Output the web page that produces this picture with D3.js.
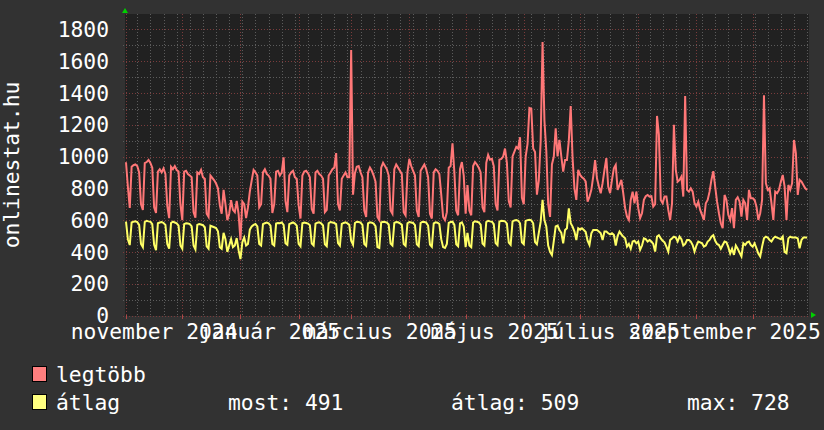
<!DOCTYPE html>
<html>
<head>
<meta charset="utf-8">
<script src="https://cdn.jsdelivr.net/npm/d3@7"></script>
<style>
  body { margin: 0; background: #323232; }
  text { font-family: "DejaVu Sans Mono", monospace; fill: #ffffff; }
</style>
</head>
<body>
<div id="chart"></div>
<script>
// daily values from 2024-11-01, one per day
const startDay = Date.UTC(2024, 10, 1)

const legtobb = [
  964, 810, 676,
  936, 945, 950, 940, 900, 700, 664,
  959, 965, 978, 960, 930, 680, 645,
  905, 920, 900, 925, 890, 690, 612,
  935, 920, 940, 915, 905, 700, 600,
  905, 910, 890, 880, 870, 650, 615,
  900, 890, 915, 870, 860, 640, 620,
  880, 865, 850, 830, 800, 694, 640,
  790, 700, 600, 640, 726, 664, 650,
  720, 640, 474, 716, 700, 613, 680,
  780, 850, 916, 900, 880, 680, 700,
  900, 920, 890, 880, 860, 645, 700,
  905, 910, 880, 900, 995, 720, 650,
  880, 900, 910, 870, 860, 694, 610,
  880, 905, 910, 895, 870, 670, 640,
  900, 910, 890, 880, 860, 650, 664,
  880, 900, 920, 930, 1021, 700, 660,
  860, 880, 900, 870, 870, 1670, 760,
  895, 936, 940, 900, 870, 660, 620,
  900, 930, 910, 880, 840, 620, 600,
  930, 960, 940, 920, 880, 660, 640,
  920, 950, 930, 910, 890, 650, 630,
  900, 985, 940, 910, 880, 660, 620,
  910, 930, 950, 920, 870, 640, 610,
  900, 920, 910, 890, 760, 620, 600,
  650, 930, 940, 1083, 900, 660, 630,
  920, 965, 880, 640, 820, 660, 630,
  940, 965, 950, 930, 900, 680, 650,
  960, 1010, 980, 985, 940, 700, 660,
  980, 985, 1000, 1050, 960, 720, 680,
  1000, 1030, 1060, 1050, 1121, 740, 700,
  1000, 1080, 1305, 1300, 1050, 1028, 760,
  850, 1100, 1720, 1226, 1035, 700, 620,
  950, 1000, 1178, 1000, 1104, 1000, 905,
  978, 978, 1100, 1318, 990, 800, 727,
  916, 884, 870, 860, 842, 716, 748,
  790, 874, 978, 863, 811, 769, 832,
  916, 990, 811, 769, 853, 926, 947,
  790, 820, 853, 769, 675, 622, 601,
  727, 779, 706, 779, 675, 612, 643,
  727, 750, 758, 748, 750, 685, 700,
  1255, 1136, 727, 706, 748, 748, 664,
  601, 706, 1199, 916, 842, 853, 874,
  748, 1381, 790, 779, 800, 779, 706,
  685, 716, 664, 633, 601, 706, 727,
  779, 853, 908, 811, 716, 643, 580,
  549, 758, 727, 633, 601, 675, 549,
  727, 744, 716, 622, 727, 706, 601,
  790, 737, 737, 727, 685, 601, 643,
  727, 1385, 832, 790, 800, 706, 601,
  779, 769, 790, 842, 884, 811, 601,
  821, 790, 832, 1104, 1021, 758, 853,
  842, 821, 800, 790
]

const atlag = [
  590, 480, 443,
  585, 590, 592, 588, 570, 450, 430,
  588, 595, 592, 590, 575, 445, 411,
  580, 585, 588, 582, 570, 450, 420,
  582, 590, 585, 580, 565, 440, 420,
  575, 580, 578, 575, 560, 440, 415,
  570, 575, 572, 568, 555, 435, 420,
  565, 560, 555, 550, 530, 430, 420,
  520, 480, 400, 440, 480, 430, 440,
  487, 411, 355, 460, 490, 440, 450,
  540, 560, 570, 575, 560, 450, 440,
  575, 580, 585, 580, 565, 450, 440,
  578, 582, 580, 585, 570, 455, 445,
  575, 580, 585, 578, 565, 450, 435,
  580, 585, 582, 578, 568, 452, 440,
  578, 584, 586, 580, 566, 448, 436,
  580, 588, 585, 582, 575, 455, 440,
  576, 582, 586, 580, 570, 470, 445,
  582, 590, 588, 584, 570, 450, 438,
  580, 586, 584, 578, 560, 430, 425,
  585, 590, 588, 584, 572, 452, 440,
  582, 588, 586, 580, 570, 450, 438,
  580, 588, 585, 582, 568, 448, 436,
  582, 590, 588, 584, 566, 446, 432,
  580, 586, 584, 575, 480, 430, 425,
  450, 582, 588, 590, 570, 448, 436,
  580, 586, 560, 430, 520, 440, 430,
  585, 592, 590, 586, 572, 452, 440,
  588, 595, 592, 590, 575, 455, 442,
  590, 596, 594, 592, 578, 458, 445,
  592, 598, 600, 596, 580, 460, 448,
  595, 600, 602, 598, 580, 462, 448,
  520, 590, 728, 600, 560, 440, 400,
  380, 470, 560, 565, 538, 520, 454,
  538, 549, 674, 580, 559, 528, 475,
  549, 540, 549, 538, 525, 470, 443,
  517, 538, 538, 538, 528, 517, 475,
  528, 528, 517, 510, 517, 507, 440,
  500, 528, 510, 496, 485, 433, 450,
  420, 465, 470, 454, 465, 413, 440,
  485, 480, 465, 475, 465, 450, 402,
  496, 505, 485, 470, 460, 433, 402,
  475, 485, 496, 490, 465, 496, 480,
  440, 450, 475, 475, 465, 443, 402,
  440, 465, 460, 454, 433, 440, 465,
  475, 496, 505, 470, 450, 443, 420,
  443, 465, 460, 430, 390, 420, 381,
  440, 420, 395, 371, 454, 443, 460,
  465, 443, 433, 454, 423, 390, 371,
  433, 485, 496, 490, 475, 465, 485,
  496, 490, 485, 480, 496, 400, 392,
  485, 496, 490, 490, 490, 485, 423,
  475, 490, 490, 491
]

const monthLabels = ["november 2024", "január 2025", "március 2025", "május 2025", "július 2025", "szeptember 2025"]
const labelMonths = [[2024, 10], [2025, 0], [2025, 2], [2025, 4], [2025, 6], [2025, 8]]
const yTicks = [0, 200, 400, 600, 800, 1000, 1200, 1400, 1600, 1800]
const yMinor = [100, 300, 500, 700, 900, 1100, 1300, 1500, 1700]
const seriesNames = ["legtöbb", "átlag"]
const seriesColors = ["#ff7777", "#ffff66"]
const legendColors = ["#ff7f7f", "#ffff7f"]
const statTexts = ["most: 491", "átlag: 509", "max: 728"]

const width = 824, height = 430
const plot = {left: 125, right: 809, top: 14, bottom: 316}

const toPoints = arr => arr.map((v, i) => ({date: new Date(startDay + i * 864e5), v: v}))

let svg = d3.select('#chart').append('svg')
  .attr('width', width)
  .attr('height', height)

svg.append('rect').attr('width', width).attr('height', height).attr('fill', '#323232')
svg.append('rect')
  .attr('x', plot.left).attr('y', plot.top)
  .attr('width', plot.right - plot.left).attr('height', plot.bottom - plot.top)
  .attr('fill', '#212121')

let xScale = d3.scaleUtc()
  .domain([new Date(startDay), new Date(Date.UTC(2025, 9, 31))])
  .range([126, 809])

let yScale = d3.scaleLinear()
  .domain([0, 1800])
  .range([315.5, 29.3])

let grid = svg.append('g')

// horizontal grid
yMinor.forEach(v => {
  let yy = Math.round(yScale(v)) + 0.5
  grid.append('line').attr('x1', plot.left - 2).attr('x2', plot.right).attr('y1', yy).attr('y2', yy)
    .attr('stroke', '#5c5c5c').attr('stroke-dasharray', '1,2')
})
yTicks.forEach(v => {
  let yy = Math.round(yScale(v)) + 0.5
  grid.append('line').attr('x1', plot.left - 2).attr('x2', plot.right).attr('y1', yy).attr('y2', yy)
    .attr('stroke', '#7a3c3c').attr('stroke-dasharray', '1,2')
})

// vertical grid: weeks (thursdays) and months
let [d0, d1] = xScale.domain()
d3.utcThursday.range(d0, d1).forEach(d => {
  let xx = Math.round(xScale(d)) + 0.5
  grid.append('line').attr('x1', xx).attr('x2', xx).attr('y1', plot.top).attr('y2', plot.bottom)
    .attr('stroke', '#5c5c5c').attr('stroke-dasharray', '1,2')
})
d3.utcMonth.range(d0, new Date(Date.UTC(2025, 10, 1))).concat([d0]).forEach(d => {
  let xx = Math.round(xScale(d)) + 0.5
  grid.append('line').attr('x1', xx).attr('x2', xx).attr('y1', plot.top).attr('y2', plot.bottom)
    .attr('stroke', '#7a3c3c').attr('stroke-dasharray', '1,2')
  grid.append('line').attr('x1', xx).attr('x2', xx).attr('y1', plot.bottom - 1).attr('y2', plot.bottom + 3)
    .attr('stroke', '#b04848')
})

// y labels
svg.append('g').selectAll('text')
  .data(yTicks)
  .enter()
  .append('text')
  .attr('x', 109)
  .attr('y', d => yScale(d))
  .attr('dy', '0.36em')
  .attr('text-anchor', 'end')
  .style('font-size', '21.3px')
  .text(d => d)

// x labels, centred in their month
svg.append('g').selectAll('text')
  .data(monthLabels)
  .enter()
  .append('text')
  .attr('x', (d, i) => {
    let [yr, m] = labelMonths[i]
    return (xScale(new Date(Date.UTC(yr, m, 1))) + xScale(new Date(Date.UTC(yr, m + 1, 1)))) / 2
  })
  .attr('y', 339)
  .attr('text-anchor', 'middle')
  .style('font-size', '21.3px')
  .text(d => d)

svg.append('text')
  .attr('transform', 'translate(19,165) rotate(-90)')
  .attr('text-anchor', 'middle')
  .style('font-size', '21.3px')
  .text('onlinestat.hu')

const line = d3.line()
  .x(d => xScale(d.date))
  .y(d => yScale(d.v))

let lines = svg.append('g')
;[legtobb, atlag].forEach((arr, i) => {
  lines.append('path')
    .datum(toPoints(arr))
    .attr('d', line)
    .attr('fill', 'none')
    .attr('stroke', seriesColors[i])
    .attr('stroke-width', 2)
})

// green arrows
svg.append('path').attr('d', 'M122,13 L125,8 L128,13 Z').attr('fill', '#00d000')
svg.append('path').attr('d', 'M811,312 L816,315 L811,318 Z').attr('fill', '#00d000')

// legend
let legend = svg.append('g')
seriesNames.forEach((name, i) => {
  legend.append('rect')
    .attr('x', 32.5).attr('y', 366.5 + i * 28)
    .attr('width', 14).attr('height', 15)
    .attr('fill', legendColors[i]).attr('stroke', '#000')
  legend.append('text')
    .attr('x', 56).attr('y', 382 + i * 28)
    .style('font-size', '21.3px')
    .text(name)
})
const statX = [228, 451, 687]
statTexts.forEach((t, i) => {
  legend.append('text')
    .attr('x', statX[i]).attr('y', 410)
    .style('font-size', '21.3px')
    .text(t)
})
</script>
</body>
</html>
